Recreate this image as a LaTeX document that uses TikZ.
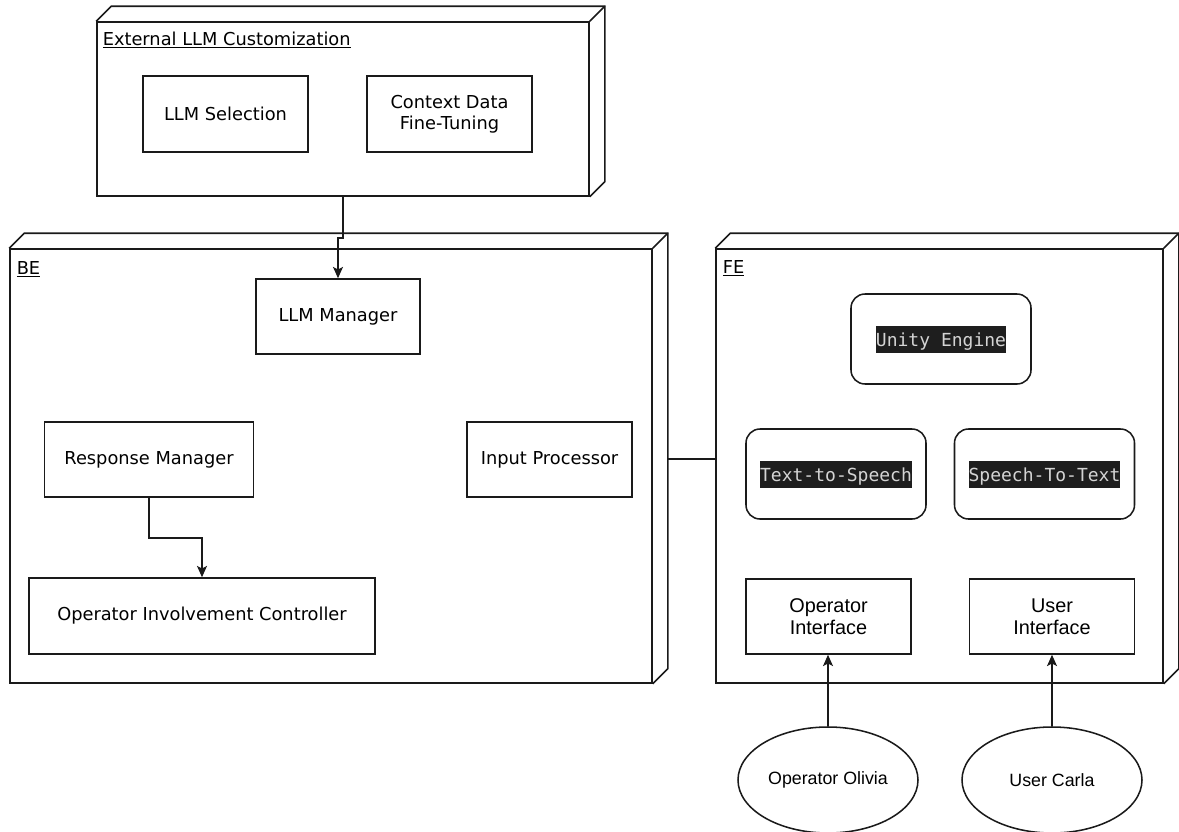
\documentclass[tikz,border=0pt]{standalone}
\usepackage{fontspec}
\setmainfont{DejaVu Sans}
\newfontfamily\arialf{Liberation Sans}
\newfontfamily\monof{DejaVu Sans Mono}
\usetikzlibrary{arrows.meta,shapes.geometric}
\definecolor{codebg}{HTML}{1E1E1E}
\definecolor{codefg}{HTML}{D4D4D4}
\definecolor{ink}{HTML}{1A1A1A}
\newcommand\vsz{\fontsize{13.35pt}{15.75pt}\selectfont}
\newcommand\asz{\arialf\fontsize{13.35pt}{16pt}\selectfont}
\newcommand\bsz{\arialf\fontsize{14.9pt}{16.5pt}\selectfont}
\newcommand\codehl[1]{{\setlength\fboxsep{0pt}\colorbox{codebg}{\rule[-4.6pt]{0pt}{20.25pt}\textcolor{codefg}{\monof\fontsize{13.5pt}{16pt}\selectfont #1}}}}
\begin{document}
\begin{tikzpicture}[x=0.75pt,y=-0.75pt,line width=1.15pt,draw=ink,
  every node/.style={inner sep=0pt},
  frame/.style={draw},
  comp/.style={draw,font=\vsz,align=center,minimum width=#1},
  comp/.default=123.75pt,
  rbox/.style={draw,rounded corners=10.5pt,minimum width=135pt,minimum height=67.5pt},
  iface/.style={draw,font=\bsz,align=center,minimum width=123.75pt,minimum height=56.25pt},
  actor/.style={draw,ellipse,minimum width=135pt,minimum height=79.5pt,font=\asz},
  conn/.style={-{Stealth[length=8.5pt,width=7.5pt,inset=2pt]}},
  ttl/.style={anchor=base west,font=\vsz}]
\useasboundingbox (0,0) rectangle (1179,832);

% frames (front faces)
\node[frame,minimum width=369pt,minimum height=130.5pt] (ext) at (343,109) {};
\node[frame,minimum width=481.5pt,minimum height=325.5pt] (be) at (331,466) {};
\node[frame,minimum width=335.25pt,minimum height=325.5pt] (fe) at (939.5,466) {};

% 3D depth
\foreach \f in {ext,be,fe}{
  \draw (\f.north west) -- ++(15,-15) -- ([shift={(15,-15)}]\f.north east)
        -- ([shift={(15,-15)}]\f.south east) -- (\f.south east);
  \draw (\f.north east) -- ++(15,-15);
}

% titles
\node[ttl] (extt) at (102,45) {\underline{External LLM Customization}};
\node[ttl] (bet) at (16,274) {\underline{BE}};
\node[ttl] (fet) at (722,273) {\underline{FE}};

% External LLM Customization
\node[comp,minimum height=57pt] (llmsel) at (225.5,114) {LLM Selection};
\node[comp,minimum height=57pt] (ctx) at (449.5,114) {Context Data\\Fine-Tuning};

% BE
\node[comp=123pt,minimum height=56.25pt] (llmmgr) at (338,316.5) {LLM Manager};
\node[comp=156.75pt,minimum height=56.25pt] (resp) at (149,459.5) {Response Manager};
\node[comp,minimum height=56.25pt] (inp) at (549.5,459.5) {Input Processor};
\node[comp=259.5pt,minimum height=57pt] (opc) at (202,616) {Operator Involvement Controller};

% FE
\node[rbox] (unity) at (941,339) {\codehl{Unity Engine}};
\node[rbox] (tts) at (836,474) {\codehl{Text-to-Speech}};
\node[rbox] (stt) at (1044.5,474) {\codehl{Speech-To-Text}};
\node[iface] (opi) at (828.5,616.5) {Operator\\Interface};
\node[iface] (usi) at (1052,616.5) {User\\Interface};

% actors
\node[actor] (olivia) at (828,780) {Operator Olivia};
\node[actor] (carla) at (1052,780) {User Carla};

% connectors
\draw[conn] (ext.south) -- ++(0,41) -| (llmmgr.north);
\draw[conn] (resp.south) -- ++(0,40) -| (opc.north);
\draw ([shift={(15,-7)}]be.east) -- ([shift={(0,-7)}]fe.west);
\draw[conn] (olivia.north) -- (olivia.north |- opi.south);
\draw[conn] (carla.north) -- (usi.south);
\end{tikzpicture}
\end{document}
